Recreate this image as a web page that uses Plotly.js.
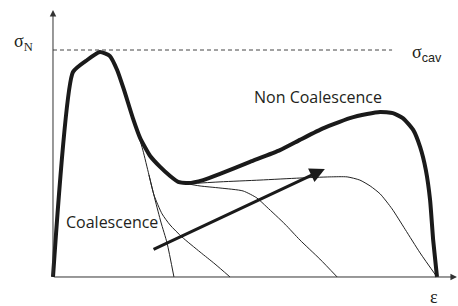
<!DOCTYPE html>
<html><head><meta charset="utf-8">
<script src="https://cdn.plot.ly/plotly-3.0.1.min.js"></script>
<style>html,body{margin:0;padding:0;background:#fff}</style>
</head><body><div id="chart" style="width:458px;height:306px"></div>
<script>
// strain (normalised to failure strain) and stress (normalised to sigma_cav)
var mainStrain = [0,0.052,0.089,0.122,0.148,0.167,0.185,0.208,0.227,0.253,0.279,0.305,0.326,0.352,0.391,0.435,0.513,0.591,0.643,0.695,0.729,0.773,0.818,0.852,0.885,0.911,0.938,0.956,0.971,0.982,0.990,1.000];
var mainStress = [0,0.903,0.956,0.991,0.974,0.912,0.824,0.700,0.612,0.533,0.485,0.445,0.419,0.414,0.427,0.454,0.507,0.559,0.604,0.648,0.672,0.700,0.718,0.727,0.722,0.700,0.648,0.573,0.471,0.339,0.163,0];

var coal1Strain = [0.221,0.234,0.250,0.266,0.281,0.297,0.315];
var coal1Stress = [0.634,0.559,0.449,0.339,0.242,0.150,0];
var coal2Strain = [0.250,0.263,0.284,0.305,0.336,0.383,0.422,0.461];
var coal2Stress = [0.449,0.361,0.278,0.229,0.176,0.110,0.057,0];
var coal3Strain = [0.339,0.383,0.435,0.495,0.531,0.557,0.604,0.643,0.695,0.740];
var coal3Stress = [0.414,0.401,0.392,0.379,0.348,0.308,0.233,0.163,0.079,0];
var coal4Strain = [0.344,0.435,0.539,0.643,0.721,0.766,0.799,0.826,0.852,0.883,0.917,0.956,1.000];
var coal4Stress = [0.410,0.419,0.427,0.436,0.441,0.441,0.427,0.401,0.366,0.300,0.210,0.106,0];

var sigmaCav = 1.0;
var arrowFrom = [0.258, 0.119];
var arrowTo = [0.708, 0.476];

var thin = {color:'#222', width:1, shape:'spline', smoothing:0.6};
var traces = [
  {x:coal1Strain, y:coal1Stress, mode:'lines', line:thin, hoverinfo:'skip'},
  {x:coal2Strain, y:coal2Stress, mode:'lines', line:thin, hoverinfo:'skip'},
  {x:coal3Strain, y:coal3Stress, mode:'lines', line:thin, hoverinfo:'skip'},
  {x:coal4Strain, y:coal4Stress, mode:'lines', line:thin, hoverinfo:'skip'},
  {x:mainStrain, y:mainStress, mode:'lines', line:{color:'#1a1a1a', width:4, shape:'spline', smoothing:0.5}, hoverinfo:'skip'}
];

var serif = 'Liberation Serif, Times New Roman, serif';
var sans = 'Open Sans, Liberation Sans, sans-serif';
var layout = {
  width:458, height:306,
  margin:{l:0,r:0,t:0,b:0},
  paper_bgcolor:'#fff', plot_bgcolor:'#fff',
  showlegend:false,
  xaxis:{range:[-0.138,1.0547], visible:false, fixedrange:true},
  yaxis:{range:[-0.1278,1.2203], visible:false, fixedrange:true},
  shapes:[
    {type:'line', xref:'x', yref:'y', x0:0, x1:0.883, y0:sigmaCav, y1:sigmaCav,
     line:{color:'#444', width:1, dash:'4px,3px'}}
  ],
  annotations:[
    {x:0, y:1.176, ax:0, ay:0, xref:'x', yref:'y', axref:'x', ayref:'y', showarrow:true,
     arrowhead:2, arrowsize:1.3, arrowwidth:1, arrowcolor:'#333', text:''},
    {x:1.052, y:0, ax:0, ay:0, xref:'x', yref:'y', axref:'x', ayref:'y', showarrow:true,
     arrowhead:2, arrowsize:1.3, arrowwidth:1, arrowcolor:'#333', text:''},
    {x:arrowTo[0], y:arrowTo[1], ax:arrowFrom[0], ay:arrowFrom[1], xref:'x', yref:'y', axref:'x', ayref:'y',
     showarrow:true, arrowhead:2, arrowsize:1.0, arrowwidth:3, arrowcolor:'#1a1a1a', text:''},
    {x:-0.078, y:1.031, xref:'x', yref:'y', showarrow:false,
     text:'σ<sub>N</sub>', font:{family:serif, size:18, color:'#231f20'}},
    {x:0.974, y:0.985, xref:'x', yref:'y', showarrow:false,
     text:'σ<sub><span style="font-family:Liberation Sans, Arial, sans-serif">cav</span></sub>', font:{family:serif, size:18, color:'#231f20'}},
    {x:0.690, y:0.792, xref:'x', yref:'y', showarrow:false,
     text:'Non Coalescence', font:{family:sans, size:16, color:'#231f20'}},
    {x:0.154, y:0.241, xref:'x', yref:'y', showarrow:false,
     text:'Coalescence', font:{family:sans, size:16, color:'#231f20'}},
    {x:0.992, y:-0.088, xref:'x', yref:'y', showarrow:false,
     text:'ε', font:{family:serif, size:18, color:'#231f20'}}
  ]
};
Plotly.newPlot('chart', traces, layout, {staticPlot:true, displayModeBar:false});
</script></body></html>
